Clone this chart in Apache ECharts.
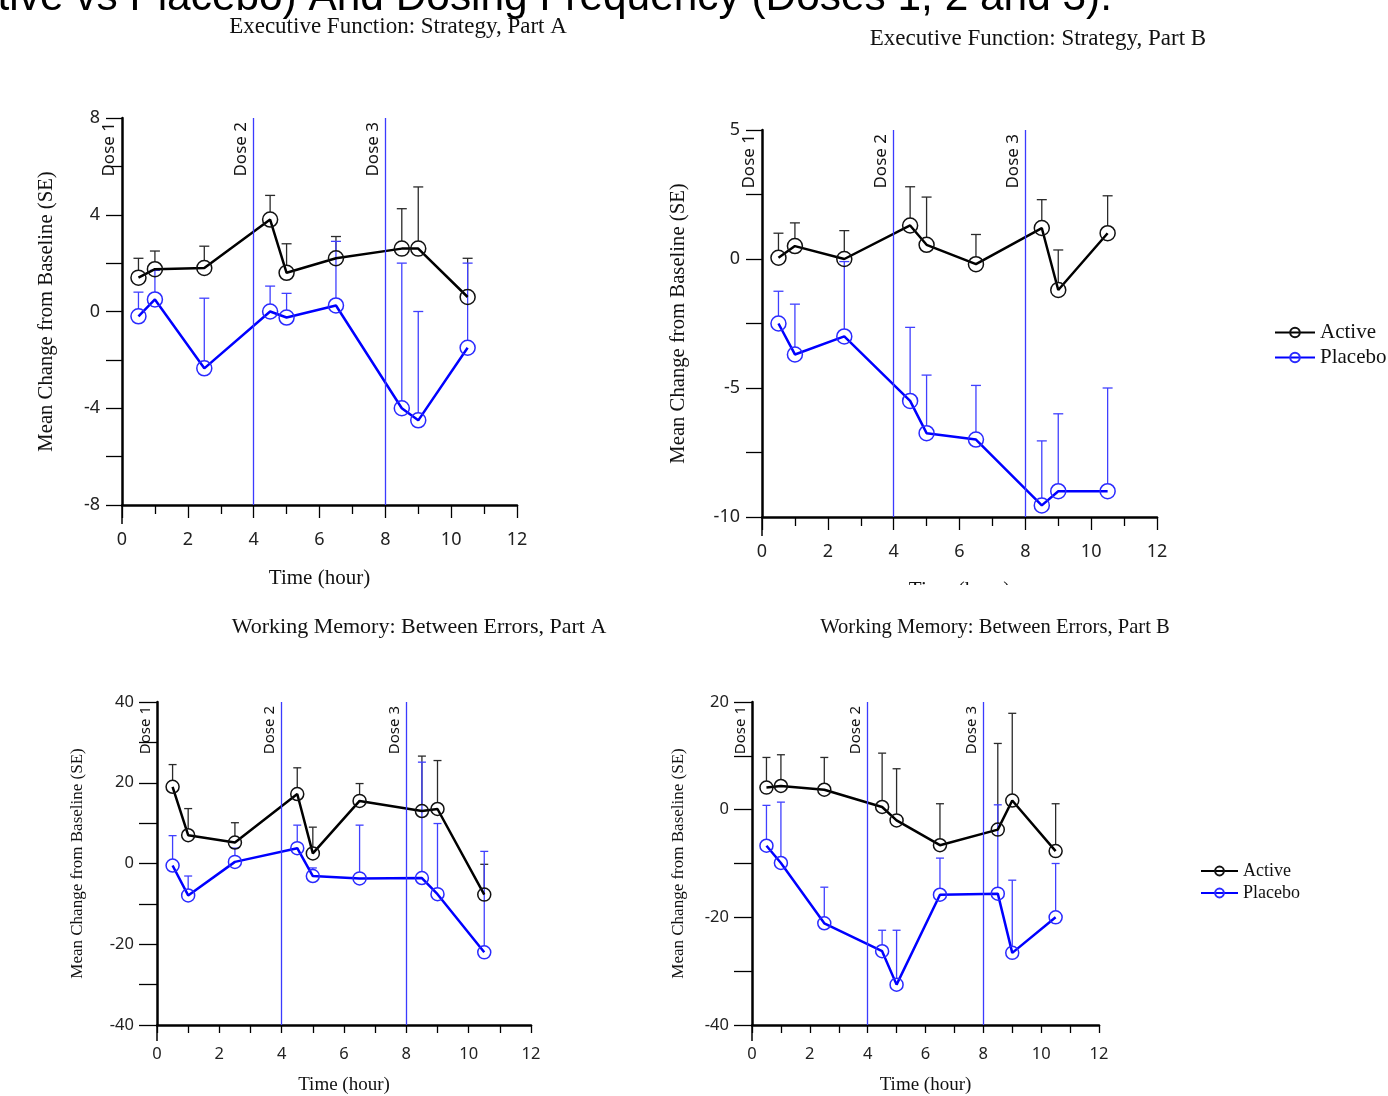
<!DOCTYPE html>
<html>
<head>
<meta charset="utf-8">
<script src="https://cdn.jsdelivr.net/npm/echarts@6/dist/echarts.min.js"></script>
<style>
  html, body { margin: 0; padding: 0; background: #fff; }
  #chart { width: 1388px; height: 1096px; }
</style>
</head>
<body>
<div id="chart"></div>
<script>
// time points (hour) shared by all four panels
var hours = [0.5, 1, 2.5, 4.5, 5, 6.5, 8.5, 9, 10.5];
var doseTimes = [0, 4, 8];
var doseNames = ['Dose 1', 'Dose 2', 'Dose 3'];

// Executive Function: Strategy, Part A
var stratA_active = [1.4, 1.75, 1.8, 3.8, 1.6, 2.2, 2.6, 2.6, 0.6];
var stratA_activeSE = [0.8, 0.75, 0.9, 1.0, 1.2, 0.9, 1.65, 2.55, 1.6];
var stratA_placebo = [-0.2, 0.5, -2.35, 0.0, -0.25, 0.25, -4.0, -4.5, -1.5];
var stratA_placeboSE = [1.0, 1.2, 2.9, 1.05, 1.0, 2.65, 6.0, 4.5, 3.5];

// Executive Function: Strategy, Part B
var stratB_active = [0.05, 0.5, 0.0, 1.3, 0.55, -0.2, 1.2, -1.2, 1.0];
var stratB_activeSE = [0.95, 0.9, 1.1, 1.5, 1.85, 1.15, 1.1, 1.55, 1.45];
var stratB_placebo = [-2.5, -3.7, -3.0, -5.5, -6.75, -7.0, -9.55, -9.0, -9.0];
var stratB_placeboSE = [1.25, 1.95, 2.9, 2.85, 2.25, 2.1, 2.5, 3.0, 4.0];

// Working Memory: Between Errors, Part A
var wmA_active = [19.0, 7.0, 5.2, 17.2, 2.5, 15.5, 13.0, 13.5, -7.7];
var wmA_activeSE = [5.5, 6.6, 4.9, 6.5, 6.5, 4.3, 13.6, 12.0, 7.5];
var wmA_placebo = [-0.5, -7.9, 0.4, 3.8, -3.1, -3.7, -3.6, -7.6, -22.0];
var wmA_placeboSE = [7.4, 4.8, 3.4, 5.7, 2.0, 13.2, 28.7, 17.5, 25.0];

// Working Memory: Between Errors, Part B
var wmB_active = [4.1, 4.4, 3.7, 0.5, -2.0, -6.6, -3.7, 1.7, -7.7];
var wmB_activeSE = [5.6, 5.8, 6.0, 10.0, 9.6, 7.7, 16.0, 16.2, 8.8];
var wmB_placebo = [-6.7, -9.9, -21.1, -26.3, -32.5, -15.8, -15.6, -26.6, -20.0];
var wmB_placeboSE = [7.5, 11.3, 6.7, 3.9, 10.1, 6.8, 16.5, 13.5, 10.0];

var panels = [
  { title: 'Executive Function: Strategy, Part A', active: stratA_active, activeSE: stratA_activeSE,
    placebo: stratA_placebo, placeboSE: stratA_placeboSE, yMin: -8, yMax: 8, yStep: 2, yLabelStep: 4,
    grid: { left: 122, top: 118, width: 395, height: 387 }, titleX: 398, titleY: 15, titleSize: 23,
    big: true, yNameGap: 65, xNameGap: 63 },
  { title: 'Executive Function: Strategy, Part B', active: stratB_active, activeSE: stratB_activeSE,
    placebo: stratB_placebo, placeboSE: stratB_placeboSE, yMin: -10, yMax: 5, yStep: 2.5, yLabelStep: 5,
    grid: { left: 762, top: 130, width: 395, height: 387 }, titleX: 1038, titleY: 27, titleSize: 23,
    big: true, yNameGap: 73, xNameGap: 63 },
  { title: 'Working Memory: Between Errors, Part A', active: wmA_active, activeSE: wmA_activeSE,
    placebo: wmA_placebo, placeboSE: wmA_placeboSE, yMin: -40, yMax: 40, yStep: 10, yLabelStep: 20,
    grid: { left: 157, top: 702, width: 374, height: 323 }, titleX: 419, titleY: 616, titleSize: 22,
    big: false, yNameGap: 71, xNameGap: 51 },
  { title: 'Working Memory: Between Errors, Part B', active: wmB_active, activeSE: wmB_activeSE,
    placebo: wmB_placebo, placeboSE: wmB_placeboSE, yMin: -40, yMax: 20, yStep: 10, yLabelStep: 20,
    grid: { left: 752, top: 702, width: 347, height: 323 }, titleX: 995, titleY: 617, titleSize: 20.6,
    big: false, yNameGap: 65, xNameGap: 51 }
];

var SANS = 'Noto Sans';
var SERIF = 'Liberation Serif';

// one-sided (upper) error bar starting at the edge of the marker
function errorBar(r, cap, color) {
  return function (params, api) {
    var x = api.value(0), m = api.value(1), se = api.value(2);
    var p0 = api.coord([x, m]);
    var p1 = api.coord([x, m + se]);
    var y0 = p0[1] - r;
    if (p1[1] >= y0) return;
    return {
      type: 'group',
      children: [
        { type: 'line', shape: { x1: p0[0], y1: y0, x2: p1[0], y2: p1[1] }, style: { stroke: color, lineWidth: 1.3 } },
        { type: 'line', shape: { x1: p1[0] - cap, y1: p1[1], x2: p1[0] + cap, y2: p1[1] }, style: { stroke: color, lineWidth: 1.3 } }
      ]
    };
  };
}

var grids = [], xAxes = [], yAxes = [], series = [], titles = [], extras = [];

panels.forEach(function (p, i) {
  var tickFont = p.big ? 18 : 16.5;
  var sym = p.big ? 15 : 13;

  titles.push({
    text: p.title, left: p.titleX, top: p.titleY, textAlign: 'center', padding: 0,
    textStyle: { fontFamily: SERIF, fontSize: p.titleSize, fontWeight: 'normal', color: '#111' }
  });

  grids.push(Object.assign({ outerBoundsMode: 'none', containLabel: false }, p.grid));

  xAxes.push({
    type: 'value', gridIndex: i, min: 0, max: 12, interval: 2,
    name: 'Time (hour)', nameLocation: 'middle', nameGap: p.xNameGap,
    nameTextStyle: { fontFamily: SERIF, fontSize: p.big ? 21 : 19, color: '#111' },
    axisLine: { onZero: false, lineStyle: { color: '#000', width: 2.5 } },
    axisTick: { length: p.big ? 13 : 8, lineStyle: { color: '#000', width: 1.3 } },
    minorTick: { show: true, splitNumber: 2, length: p.big ? 9 : 8, lineStyle: { color: '#000', width: 1.3 } },
    axisLabel: { margin: p.big ? 26 : 21, fontFamily: SANS, fontSize: tickFont, color: '#222' },
    splitLine: { show: false }
  });

  yAxes.push({
    type: 'value', gridIndex: i, min: p.yMin, max: p.yMax, interval: p.yStep,
    name: 'Mean Change from Baseline (SE)', nameLocation: 'middle', nameGap: p.yNameGap,
    nameTextStyle: { fontFamily: SERIF, fontSize: p.big ? 20.7 : 17, color: '#111' },
    axisLine: { show: true, onZero: false, lineStyle: { color: '#000', width: 2.5 } },
    axisTick: { show: true, length: p.big ? 16 : 18, lineStyle: { color: '#000', width: 1.3 } },
    axisLabel: {
      margin: p.big ? 22 : 23, fontFamily: SANS, fontSize: tickFont, color: '#222',
      formatter: function (v) { return Math.abs(v % p.yLabelStep) < 1e-9 ? String(v) : ''; }
    },
    splitLine: { show: false }
  });

  // the y axis line runs on a little below the x axis in the source figure
  var g = p.grid;
  extras.push({ type: 'line', z: 10, shape: { x1: g.left, y1: g.top + g.height, x2: g.left, y2: g.top + g.height + (p.big ? 19 : 16) },
    style: { stroke: '#000', lineWidth: 1.5 } });

  var groups = [
    { name: 'Active', mean: p.active, se: p.activeSE, line: '#000', mark: '#111', bar: '#2a2a2a' },
    { name: 'Placebo', mean: p.placebo, se: p.placeboSE, line: '#0000ff', mark: '#2a2aff', bar: '#4040ff' }
  ];

  groups.forEach(function (grp) {
    series.push({
      type: 'custom', name: grp.name + ' SE', xAxisIndex: i, yAxisIndex: i,
      renderItem: errorBar(sym / 2, p.big ? 5 : 4, grp.bar),
      encode: { x: 0, y: 1 },
      data: hours.map(function (h, k) { return [h, grp.mean[k], grp.se[k]]; }),
      silent: true, animation: false, z: 2
    });
  });

  groups.forEach(function (grp, gi) {
    var s = {
      type: 'line', name: grp.name, xAxisIndex: i, yAxisIndex: i,
      data: hours.map(function (h, k) { return [h, grp.mean[k]]; }),
      symbol: 'circle', symbolSize: sym,
      itemStyle: { color: 'rgba(0,0,0,0)', borderColor: grp.mark, borderWidth: 1.5 },
      lineStyle: { color: grp.line, width: 2.5 },
      emphasis: { disabled: true },
      animation: false, z: 3
    };
    if (gi === 1) {
      s.markLine = {
        silent: true, symbol: 'none', animation: false,
        lineStyle: { color: '#3b3bff', width: 1.3, type: 'solid' },
        label: {
          show: true, position: 'insideEndTop', formatter: '{b}', distance: 4,
          fontFamily: SANS, fontSize: p.big ? 17 : 15, color: '#111'
        },
        data: doseTimes.map(function (t, k) {
          var d = { xAxis: t, name: doseNames[k] };
          if (k === 0) d.lineStyle = { color: 'rgba(0,0,0,0)' };
          return d;
        })
      };
    }
    series.push(s);
  });
});

var chart = echarts.init(document.getElementById('chart'));
chart.setOption({
  backgroundColor: '#fff',
  animation: false,
  title: titles,
  grid: grids,
  xAxis: xAxes,
  yAxis: yAxes,
  legend: [
    { left: 1274, top: 322, padding: 0, orient: 'vertical', itemWidth: 40, itemHeight: 12, itemGap: 4,
      selectedMode: false, data: ['Active', 'Placebo'],
      textStyle: { fontFamily: SERIF, fontSize: 21, color: '#111' } },
    { left: 1200, top: 862, padding: 0, orient: 'vertical', itemWidth: 37, itemHeight: 11, itemGap: 4,
      selectedMode: false, data: ['Active', 'Placebo'],
      textStyle: { fontFamily: SERIF, fontSize: 18, color: '#111' } }
  ],
  graphic: extras.concat([
    { type: 'text', x: 1112, y: -2, z: 50,
      style: { text: '(Active vs Placebo) And Dosing Frequency (Doses 1, 2 and 3).', font: '42.4px "Liberation Sans"',
        fill: '#000', align: 'right', verticalAlign: 'middle' } },
    // the x axis name of the top-right panel is clipped in the source figure
    { type: 'rect', z: 50, shape: { x: 860, y: 585, width: 200, height: 22 }, style: { fill: '#fff' } }
  ]),
  series: series
});
</script>
</body>
</html>
